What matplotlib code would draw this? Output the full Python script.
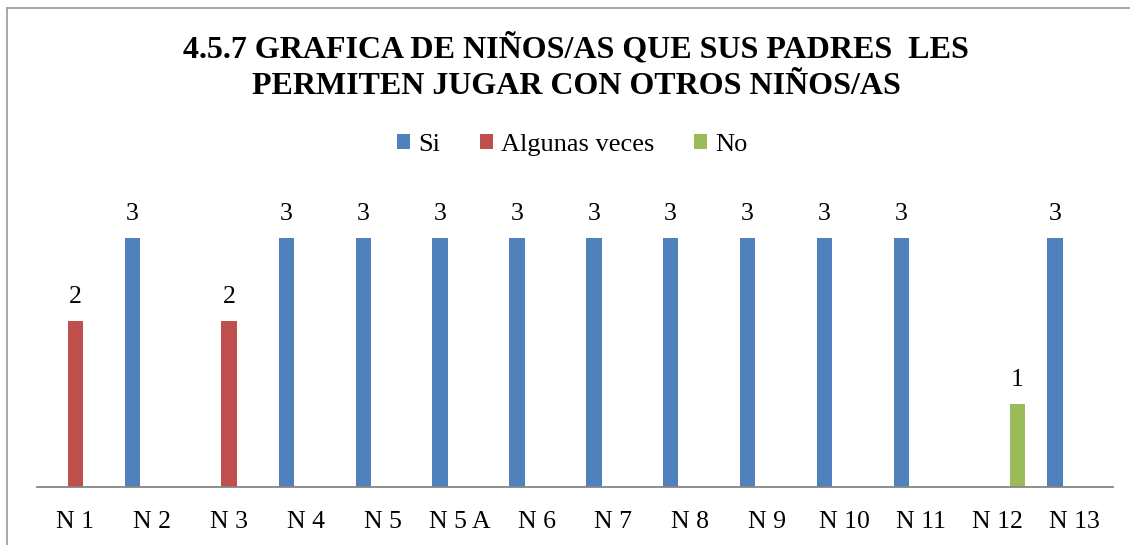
import matplotlib.pyplot as plt
import numpy as np

plt.rcParams['font.family'] = ['Liberation Serif', 'DejaVu Serif']

categorias = ['N 1', 'N 2', 'N 3', 'N 4', 'N 5', 'N 5 A', 'N 6', 'N 7',
              'N 8', 'N 9', 'N 10', 'N 11', 'N 12', 'N 13']
si = [0, 3, 0, 3, 3, 3, 3, 3, 3, 3, 3, 3, 0, 3]
algunas = [2, 0, 2, 0, 0, 0, 0, 0, 0, 0, 0, 0, 0, 0]
no = [0, 0, 0, 0, 0, 0, 0, 0, 0, 0, 0, 0, 1, 0]

series = [('Si', si, '#4F81BD'),
          ('Algunas veces', algunas, '#C0504D'),
          ('No', no, '#9BBB59')]

W, H = 1130, 545
fig = plt.figure(figsize=(W / 100, H / 100), dpi=100)
ax = fig.add_axes([37 / W, 1 - 487 / H, (1113 - 37) / W, (487 - 196.5) / H])

x = np.arange(len(categorias))
ancho = 0.2
paso = 0.255
for k, (nombre, vals, color) in enumerate(series):
    vals = np.array(vals, dtype=float)
    pos = x + (k - 1) * paso
    alto = np.where(vals > 0, vals, np.nan)
    ax.bar(pos, alto, width=ancho, color=color, label=nombre)
    for p, v in zip(pos, vals):
        if v > 0:
            ax.text(p, v + 0.29, '%d' % v, ha='center', va='center', fontsize=18.5)

ax.set_xlim(-0.5, len(categorias) - 0.5)
ax.set_ylim(0, 3.5)
ax.set_xticks(x)
ax.set_xticklabels(categorias, fontsize=18.5)
ax.tick_params(axis='x', length=0, pad=17)
ax.set_yticks([])
for s in ['top', 'right', 'left']:
    ax.spines[s].set_visible(False)
ax.spines['bottom'].set_color('#868686')
ax.spines['bottom'].set_linewidth(1.3)

# titulo
fig.text(576 / W, 1 - 49 / H, '4.5.7 GRAFICA DE NIÑOS/AS QUE SUS PADRES  LES',
         ha='center', va='center', fontsize=23, fontweight='bold')
fig.text(576 / W, 1 - 86 / H, 'PERMITEN JUGAR CON OTROS NIÑOS/AS',
         ha='center', va='center', fontsize=23, fontweight='bold')

fig.legend(loc='center', bbox_to_anchor=(572 / W, 1 - 145 / H), ncol=3,
           frameon=False, fontsize=19, handlelength=0.5, handleheight=0.5,
           handletextpad=0.3, columnspacing=1.5)

# marco exterior
fig.add_artist(plt.Line2D([7 / W, 7 / W], [0, 1 - 8 / H], color='#999999', lw=1.2))
fig.add_artist(plt.Line2D([7 / W, 1], [1 - 8 / H, 1 - 8 / H], color='#999999', lw=1.2))

fig.savefig('out.png', dpi=100)
